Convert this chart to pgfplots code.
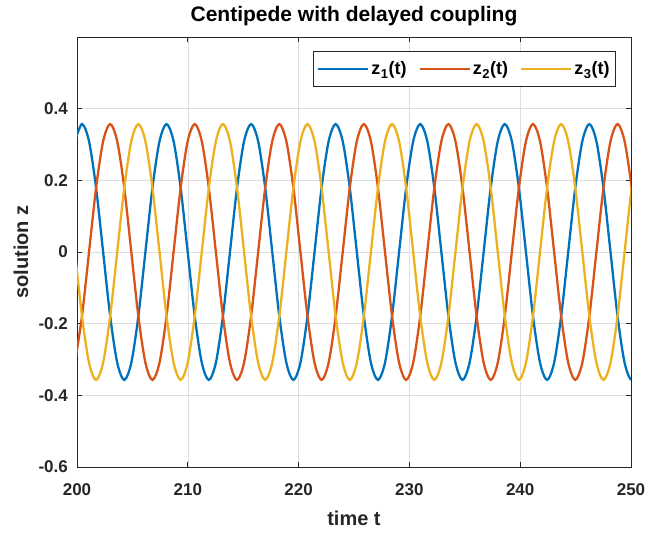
\documentclass[border=0pt]{standalone}
\usepackage{fontspec}
\setmainfont{Liberation Sans}
\usepackage{pgfplots}
\pgfplotsset{compat=1.18}
\usepackage{pgfplotstable}
\definecolor{mblue}{rgb}{0,0.447,0.741}
\definecolor{mred}{rgb}{0.85,0.325,0.098}
\definecolor{myellow}{rgb}{0.929,0.694,0.125}
\definecolor{axgray}{rgb}{0.15,0.15,0.15}

\pgfplotstableread{
t z1 z2 z3
199.814 0.309 -0.309 0
200.450 0.357 -0.179 -0.179
201.086 0.309 0 -0.309
201.722 0.179 0.179 -0.357
202.358 0 0.309 -0.309
202.994 -0.179 0.357 -0.179
203.630 -0.309 0.309 0
204.266 -0.357 0.179 0.179
204.902 -0.309 0 0.309
205.538 -0.179 -0.179 0.357
206.174 0 -0.309 0.309
206.810 0.179 -0.357 0.179
207.446 0.309 -0.309 0
208.082 0.357 -0.179 -0.179
208.718 0.309 0 -0.309
209.354 0.179 0.179 -0.357
209.990 0 0.309 -0.309
210.626 -0.179 0.357 -0.179
211.262 -0.309 0.309 0
211.898 -0.357 0.179 0.179
212.534 -0.309 0 0.309
213.170 -0.179 -0.179 0.357
213.806 0 -0.309 0.309
214.442 0.179 -0.357 0.179
215.078 0.309 -0.309 0
215.714 0.357 -0.179 -0.179
216.350 0.309 0 -0.309
216.986 0.179 0.179 -0.357
217.622 0 0.309 -0.309
218.258 -0.179 0.357 -0.179
218.894 -0.309 0.309 0
219.530 -0.357 0.179 0.179
220.166 -0.309 0 0.309
220.802 -0.179 -0.179 0.357
221.438 0 -0.309 0.309
222.074 0.179 -0.357 0.179
222.710 0.309 -0.309 0
223.346 0.357 -0.179 -0.179
223.982 0.309 0 -0.309
224.618 0.179 0.179 -0.357
225.254 0 0.309 -0.309
225.890 -0.179 0.357 -0.179
226.526 -0.309 0.309 0
227.162 -0.357 0.179 0.179
227.798 -0.309 0 0.309
228.434 -0.179 -0.179 0.357
229.070 0 -0.309 0.309
229.706 0.179 -0.357 0.179
230.342 0.309 -0.309 0
230.978 0.357 -0.179 -0.179
231.614 0.309 0 -0.309
232.250 0.179 0.179 -0.357
232.886 0 0.309 -0.309
233.522 -0.179 0.357 -0.179
234.158 -0.309 0.309 0
234.794 -0.357 0.179 0.179
235.430 -0.309 0 0.309
236.066 -0.179 -0.179 0.357
236.702 0 -0.309 0.309
237.338 0.179 -0.357 0.179
237.974 0.309 -0.309 0
238.610 0.357 -0.179 -0.179
239.246 0.309 0 -0.309
239.882 0.179 0.179 -0.357
240.518 0 0.309 -0.309
241.154 -0.179 0.357 -0.179
241.790 -0.309 0.309 0
242.426 -0.357 0.179 0.179
243.062 -0.309 0 0.309
243.698 -0.179 -0.179 0.357
244.334 0 -0.309 0.309
244.970 0.179 -0.357 0.179
245.606 0.309 -0.309 0
246.242 0.357 -0.179 -0.179
246.878 0.309 0 -0.309
247.514 0.179 0.179 -0.357
248.150 0 0.309 -0.309
248.786 -0.179 0.357 -0.179
249.422 -0.309 0.309 0
250.058 -0.357 0.179 0.179
250.694 -0.309 0 0.309
}\data

\newcommand{\sub}[1]{\kern0.5pt\raisebox{-0.45ex}{\fontsize{13}{13}\selectfont #1}\kern0.5pt}

\begin{document}
\begin{tikzpicture}
\begin{axis}[
  scale only axis,
  width=554pt, height=430pt,
  xmin=200, xmax=250, ymin=-0.6, ymax=0.6,
  xtick={200,210,220,230,240,250},
  ytick={-0.6,-0.4,-0.2,0,0.2,0.4},
  /pgf/number format/assume math mode=true,
  /pgf/number format/fixed,
  grid=major,
  major grid style={black!13, line width=0.6pt},
  tick align=inside,
  major tick length=5pt,
  axis line style={axgray, line width=0.8pt},
  every tick/.style={axgray, line width=0.8pt},
  tick label style={font=\bfseries\fontsize{17}{17}\selectfont, text=axgray, inner sep=0pt},
  xticklabel style={yshift=-16pt},
  yticklabel style={xshift=-9pt},
  title={Centipede with delayed coupling},
  title style={at={(axis description cs:0.5,1)}, anchor=base, yshift=9pt,
    font=\bfseries\fontsize{21}{21}\selectfont},
  xlabel={time t},
  ylabel={solution z},
  xlabel style={at={(axis description cs:0.5,0)}, anchor=base, yshift=-58pt,
    font=\bfseries\fontsize{20}{20}\selectfont, text=axgray},
  ylabel style={at={(axis description cs:-0.0884,0.5)}, anchor=base,
    font=\bfseries\fontsize{20}{20}\selectfont, text=axgray},
  legend columns=3,
  legend style={at={(0.973,0.967)}, anchor=north east, draw=axgray,
    line width=0.8pt, fill=white, font=\bfseries\fontsize{18}{18}\selectfont,
    inner xsep=4pt, inner ysep=8pt,
    /tikz/every even column/.append style={column sep=10pt}},
  legend cell align=left,
  legend image code/.code={\draw[#1] (0pt,0pt) -- (50pt,0pt);},
]
\addplot[mblue, line width=2.3pt, smooth] table[x=t, y=z1] {\data};
\addlegendentry{z\sub{1}(t)}
\addplot[mred, line width=2.3pt, smooth] table[x=t, y=z2] {\data};
\addlegendentry{z\sub{2}(t)}
\addplot[myellow, line width=2.3pt, smooth] table[x=t, y=z3] {\data};
\addlegendentry{z\sub{3}(t)}
\end{axis}
\path (current axis.south west) +(-77pt,-66pt) (current axis.north east) +(16pt,37pt);
\end{tikzpicture}
\end{document}
